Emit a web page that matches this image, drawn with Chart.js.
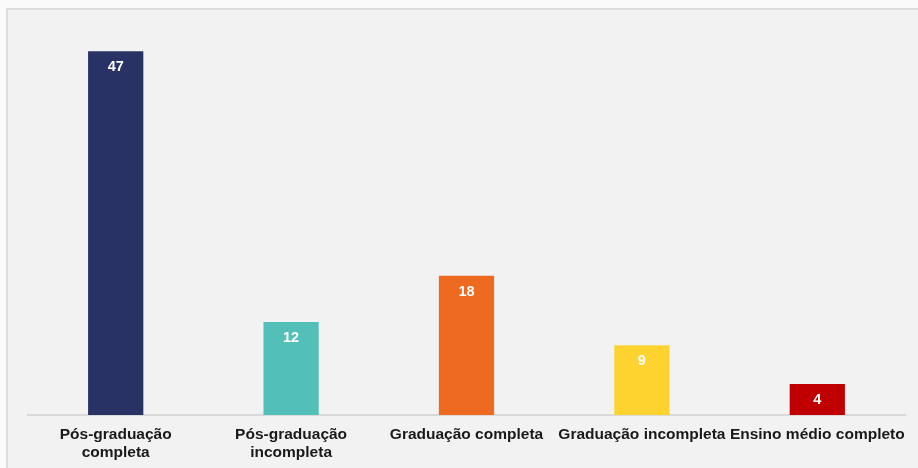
<!DOCTYPE html>
<html>
<head>
<meta charset="utf-8">
<script src="https://cdn.jsdelivr.net/npm/chart.js@4"></script>
<style>
  html, body { margin: 0; padding: 0; background: #fafafa; }
  #frame {
    position: absolute; left: 6px; top: 8px; width: 920px; height: 470px;
    background: #f2f2f2; border-top: 2px solid #dcdcdc; border-left: 2px solid #dcdcdc;
  }
  #wrap { position: absolute; left: 0; top: 0; width: 918px; height: 468px; }
</style>
</head>
<body>
<div id="frame"></div>
<div id="wrap"><canvas id="escolaridadeChart" width="918" height="468"></canvas></div>
<script>
const categories = [
    ['Pós-graduação', 'completa'],
    ['Pós-graduação', 'incompleta'],
    'Graduação completa',
    'Graduação incompleta',
    'Ensino médio completo'
];
const values = [47, 12, 18, 9, 4];
const barColors = ['#283264', '#52bfb9', '#ee6a20', '#fed330', '#c00000'];

// draws the value inside each bar, near its top
const valueLabels = {
    id: 'valueLabels',
    afterDatasetsDraw(chart) {
        const ctx = chart.ctx;
        const meta = chart.getDatasetMeta(0);
        ctx.save();
        ctx.fillStyle = '#ffffff';
        ctx.font = 'bold 14.5px "Liberation Sans", Arial, sans-serif';
        ctx.textAlign = 'center';
        ctx.textBaseline = 'middle';
        meta.data.forEach(function (bar, i) {
            ctx.fillText(String(values[i]), bar.x, bar.y + 16);
        });
        ctx.restore();
    }
};

document.addEventListener('DOMContentLoaded', function () {
    const config = {
        type: 'bar',
        data: {
            labels: categories,
            datasets: [{
                data: values,
                backgroundColor: barColors,
                barPercentage: 0.63,
                categoryPercentage: 0.5,
            }],
        },
        options: {
            responsive: false,
            animation: false,
            layout: { padding: { left: 28, right: 13, top: 28, bottom: 0 } },
            plugins: {
                legend: { display: false },
                tooltip: { enabled: false },
            },
            scales: {
                x: {
                    grid: { display: false },
                    border: { display: true, color: '#d9d9d9', width: 2 },
                    ticks: {
                        color: '#1a1a1a',
                        font: { family: '"Liberation Sans", Arial, sans-serif', size: 15.5, weight: 'bold', lineHeight: 1.16 },
                        maxRotation: 0,
                        autoSkip: false,
                        padding: 3,
                    },
                    afterFit: function (scale) { scale.height = 53; },
                },
                y: {
                    display: false,
                    min: 0,
                    max: 50,
                },
            },
        },
        plugins: [valueLabels],
    };

    const ctx = document.getElementById('escolaridadeChart').getContext('2d');
    new Chart(ctx, config);
});
</script>
</body>
</html>
